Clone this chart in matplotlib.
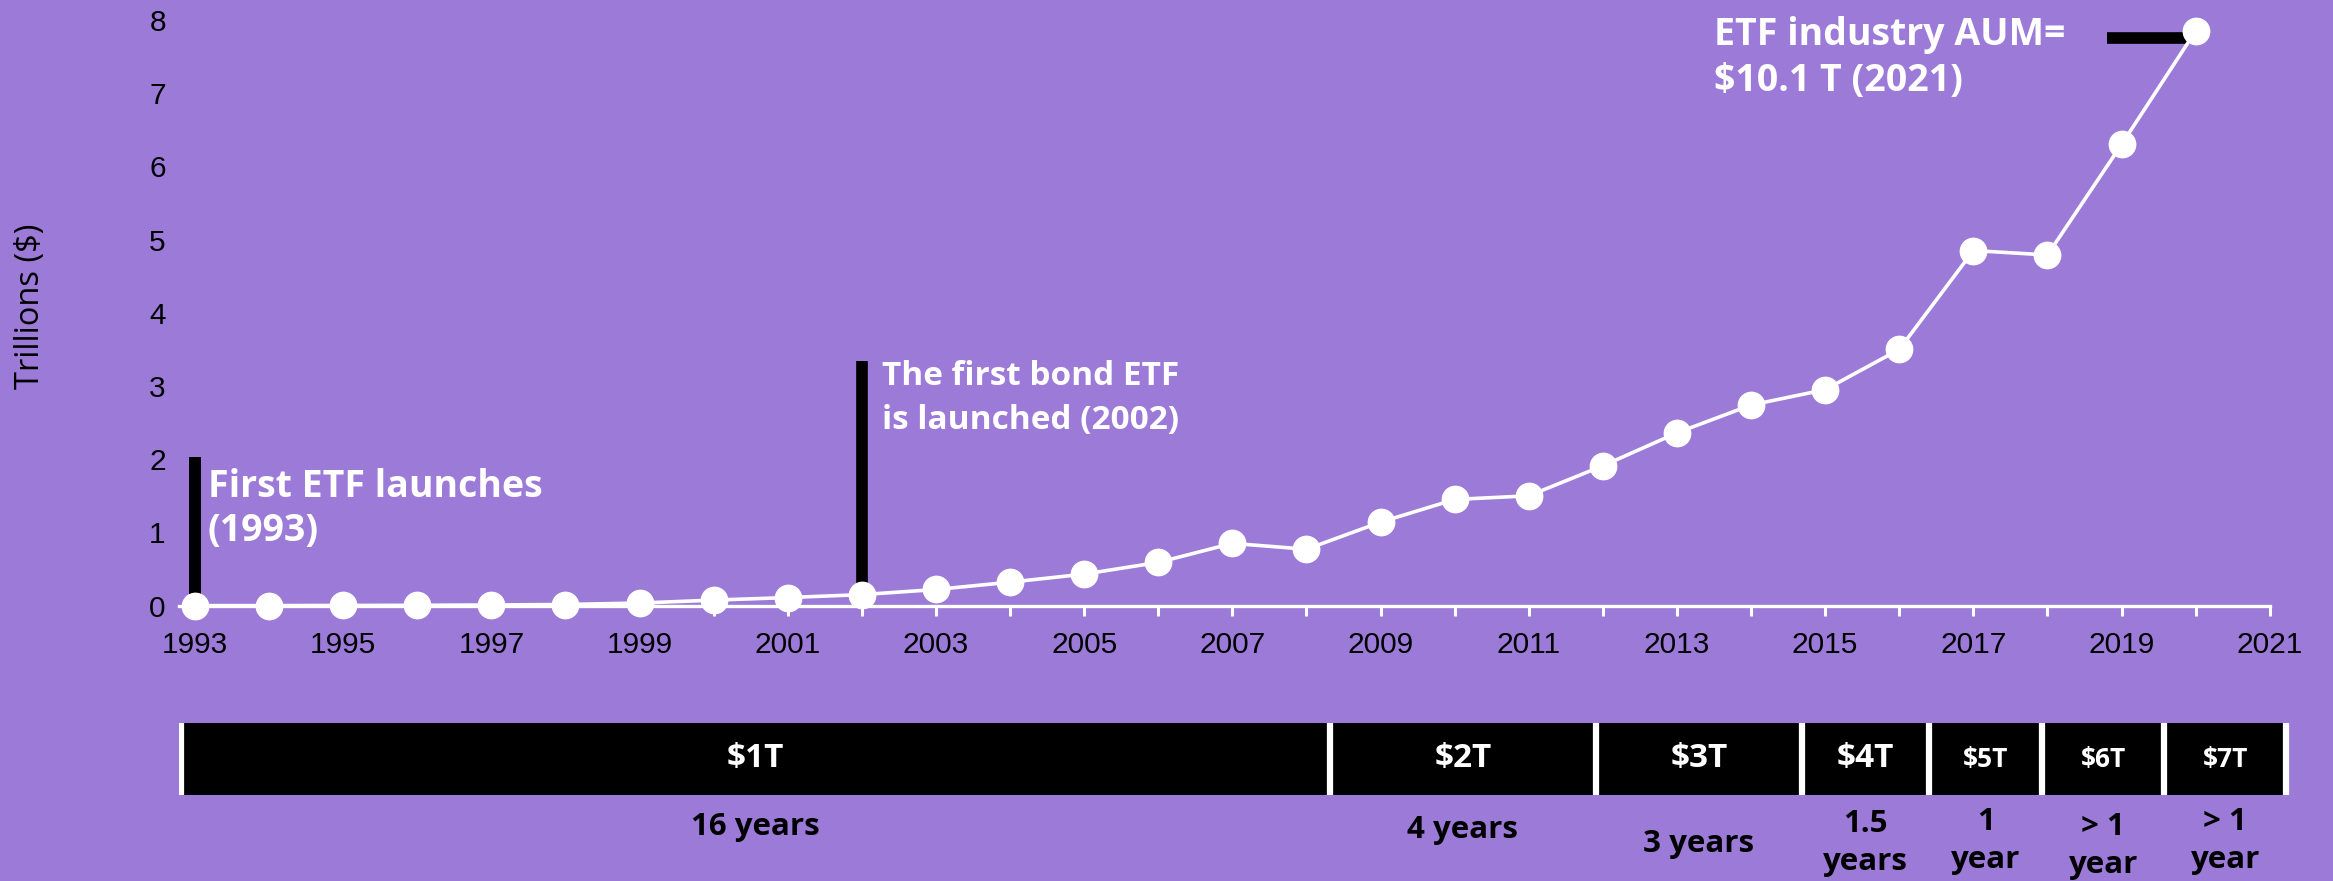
import matplotlib
matplotlib.use("Agg")
import matplotlib.pyplot as plt
import numpy as np

# ETF industry assets, trillions of dollars
years = list(range(1993, 2021))
aum = [0.0, 0.0, 0.002, 0.004, 0.008, 0.015, 0.035, 0.075, 0.11, 0.15,
       0.22, 0.32, 0.43, 0.59, 0.85, 0.77, 1.14, 1.45, 1.50, 1.91,
       2.36, 2.74, 2.95, 3.50, 4.85, 4.79, 6.30, 7.85]

# milestone strip: cumulative AUM thresholds and time needed to reach each
milestones = ["$1T", "$2T", "$3T", "$4T", "$5T", "$6T", "$7T"]
durations = ["16 years", "4 years", "3 years", "1.5\nyears", "1\nyear", "> 1\nyear", "> 1\nyear"]
segment_edges = [1992.81, 2008.30, 2011.89, 2014.67, 2016.38, 2017.91, 2019.55, 2021.20]

bg = "#9c7ad8"
W, H = 2333, 881
font_txt = ["Open Sans", "DejaVu Sans"]
font_axis = ["Liberation Sans", "DejaVu Sans"]

fig = plt.figure(figsize=(W / 100, H / 100), dpi=100, facecolor=bg)

# ---- main line chart ----
x0_px, per_year = 195, 74.16
xmin = 1993 - (x0_px - 179) / per_year
xmax = 2021.03
y0_px, per_unit = 605.6, 73.2
ytop = 8.2
ax = fig.add_axes([179 / W, (H - y0_px) / H, (2272 - 179) / W, ytop * per_unit / H])
ax.set_facecolor(bg)
ax.set_xlim(xmin, xmax)
ax.set_ylim(0, ytop)

ax.plot(years, aum, color="white", lw=2.6, marker="o", markersize=19,
        markerfacecolor="white", markeredgecolor="white", zorder=5, clip_on=False)

for s in ["top", "right", "left"]:
    ax.spines[s].set_visible(False)
ax.spines["bottom"].set_color("white")
ax.spines["bottom"].set_linewidth(2.4)
ax.spines["bottom"].set_bounds(xmin, 2021)

tick_years = list(range(1993, 2022))
ax.set_xticks(tick_years)
ax.set_xticklabels([str(y) if (y - 1993) % 2 == 0 else "" for y in tick_years],
                   fontfamily=font_axis, fontsize=21.5, color="black")
ax.tick_params(axis="x", length=7, width=2.2, color="white", pad=11)
ax.set_yticks(range(0, 9))
ax.set_yticklabels([str(v) for v in range(0, 9)], fontfamily=font_axis,
                   fontsize=21.5, color="black")
ax.tick_params(axis="y", length=0, pad=9.5)

fig.text(30 / W, 1 - 306 / H, "Trillions ($)", rotation=90, ha="center", va="center",
         fontsize=23.5, color="black", family=font_txt)

# milestone markers
first_etf_top = 2.03
bond_etf_top = 3.34
aum_bar_start = 2018.8
ax.plot([1993, 1993], [aum[0], first_etf_top], color="black", lw=8.6,
        solid_capstyle="butt", zorder=3)
ax.plot([2002, 2002], [aum[years.index(2002)], bond_etf_top], color="black", lw=8.4,
        solid_capstyle="butt", zorder=3)
ax.plot([aum_bar_start, years[-1]], [7.76, 7.76], color="black", lw=8.4,
        solid_capstyle="butt", zorder=3, clip_on=False)

ax.text(1993.17, 1.88, "First ETF launches\n(1993)", color="white", fontsize=27,
        fontweight="bold", family=font_txt, ha="left", va="top", linespacing=1.22)
ax.text(2002.27, 3.35, "The first bond ETF\nis launched (2002)", color="white", fontsize=24,
        fontweight="bold", family=font_txt, ha="left", va="top", linespacing=1.42)
ax.text(2013.5, 8.05, "ETF industry AUM=\n$10.1 T (2021)", color="white", fontsize=27,
        fontweight="bold", family=font_txt, ha="left", va="top", linespacing=1.27,
        clip_on=False)

# ---- milestone strip ----
strip_top, strip_bot = 723, 795
sx_max = xmin + (2290 - 179) / per_year
ax2 = fig.add_axes([179 / W, (H - strip_bot) / H, (2290 - 179) / W, (strip_bot - strip_top) / H])
ax2.set_xlim(xmin, sx_max)
ax2.set_ylim(0, 1)
ax2.axis("off")

edges = np.array(segment_edges)
mids = (edges[:-1] + edges[1:]) / 2
ax2.barh(0.5, np.diff(edges), left=edges[:-1], height=1, color="black", align="center")
ax2.vlines(edges, 0, 1, color="white", lw=4.5)

label_y_px = [827, 830, 844, 843, 841, 846, 841]
for i, (m, d) in enumerate(zip(milestones, durations)):
    ax2.text(mids[i], 0.5, m, color="white", fontweight="bold", family=font_txt,
             fontsize=24 if i < 4 else 19, ha="center", va="center")
    ax2.text(mids[i], (strip_bot - label_y_px[i]) / (strip_bot - strip_top), d,
             color="black", fontweight="bold", family=font_txt, fontsize=22.5,
             ha="center", va="center", linespacing=1.38, clip_on=False)

fig.savefig("out.png", dpi=100, facecolor=bg)
